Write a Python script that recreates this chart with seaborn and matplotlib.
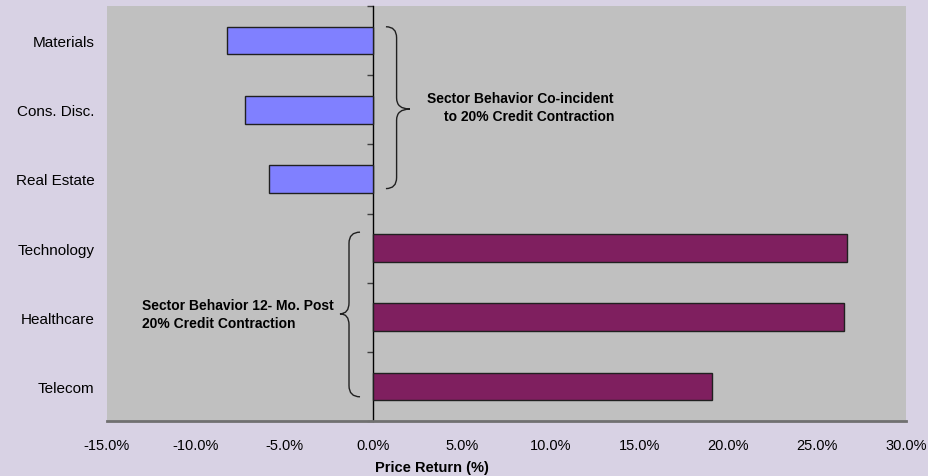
import matplotlib
matplotlib.use("Agg")
import matplotlib.pyplot as plt
import seaborn as sns
import pandas as pd
from matplotlib.path import Path
from matplotlib.patches import PathPatch

# ---- data ----
sectors = ["Materials", "Cons. Disc.", "Real Estate", "Technology", "Healthcare", "Telecom"]
returns = [-8.26, -7.23, -5.86, 26.65, 26.52, 19.08]
xtick_values = [-15, -10, -5, 0, 5, 10, 15, 20, 25, 30]
xtick_labels = ["%.1f%%" % v for v in xtick_values]
note_top = "Sector Behavior Co-incident\nto 20% Credit Contraction"
note_bottom = "Sector Behavior 12- Mo. Post\n20% Credit Contraction"
x_title = "Price Return (%)"

# ---- style ----
bar_colors = ["#8080FF", "#8080FF", "#8080FF", "#7F1F5F", "#7F1F5F", "#7F1F5F"]
fig_bg = "#D8D2E4"
plot_bg = "#C0C0C0"

plt.rcParams["font.family"] = ["Liberation Sans", "DejaVu Sans"]

df = pd.DataFrame({"sector": sectors, "ret": returns})

fig = plt.figure(figsize=(9.29, 4.77), dpi=100, facecolor=fig_bg)
ax = fig.add_axes([107 / 929, 1 - 422 / 477, 799 / 929, 415 / 477])
ax.set_facecolor(plot_bg)

sns.barplot(data=df, x="ret", y="sector", hue="sector", palette=bar_colors,
            order=sectors, hue_order=sectors, dodge=False, legend=False,
            saturation=1, width=0.4, edgecolor="#202020", linewidth=1.0,
            ax=ax, orient="h")

ax.set_xlim(-15, 30)
ax.set_ylim(5.5, -0.5)
ax.set_xticks(xtick_values)
ax.set_xticklabels(xtick_labels)
ax.tick_params(axis="x", length=0, pad=12, labelsize=10.5, colors="#000000")
ax.tick_params(axis="y", length=0, pad=9, labelsize=11, colors="#000000")
ax.set_ylabel("")
ax.set_xlabel(x_title, fontsize=10.5, fontweight="bold")
ax.xaxis.set_label_coords((432 - 107) / 799, -0.093)

for s in ["top", "right", "left"]:
    ax.spines[s].set_visible(False)
ax.spines["bottom"].set_color("#707070")
ax.spines["bottom"].set_linewidth(2.0)

# zero line with category boundary ticks
sec = ax.secondary_yaxis(15 / 45)
sec.set_yticks([i - 0.5 for i in range(len(sectors) + 1)])
sec.set_yticklabels([])
sec.tick_params(axis="y", direction="out", length=4.5, width=1, color="#404040")
sec.spines["left"].set_color("#000000")
sec.spines["left"].set_linewidth(1.0)


def brace(x_hook, x_spine, x_point, y0, y1, ym, r):
    verts = [(x_hook, y0), (x_spine, y0), (x_spine, y0 + r),
             (x_spine, ym - r), (x_spine, ym), (x_point, ym),
             (x_spine, ym), (x_spine, ym + r),
             (x_spine, y1 - r), (x_spine, y1), (x_hook, y1)]
    codes = [Path.MOVETO, Path.CURVE3, Path.CURVE3,
             Path.LINETO, Path.CURVE3, Path.CURVE3,
             Path.CURVE3, Path.CURVE3,
             Path.LINETO, Path.CURVE3, Path.CURVE3]
    ax.add_patch(PathPatch(Path(verts, codes), facecolor="none",
                           edgecolor="#202020", linewidth=1.0, zorder=5))


brace(0.71, 1.31, 2.06, -0.2, 2.14, 0.99, 0.16)
brace(-0.75, -1.37, -1.88, 2.77, 5.15, 3.95, 0.16)

ax.text(13.55, 0.96, note_top, ha="right", va="center", multialignment="right",
        fontsize=10, fontweight="bold", linespacing=1.35)
ax.text(-13.03, 3.95, note_bottom, ha="left", va="center", multialignment="left",
        fontsize=10, fontweight="bold", linespacing=1.35)

fig.savefig("out.png", dpi=100, facecolor=fig_bg)
